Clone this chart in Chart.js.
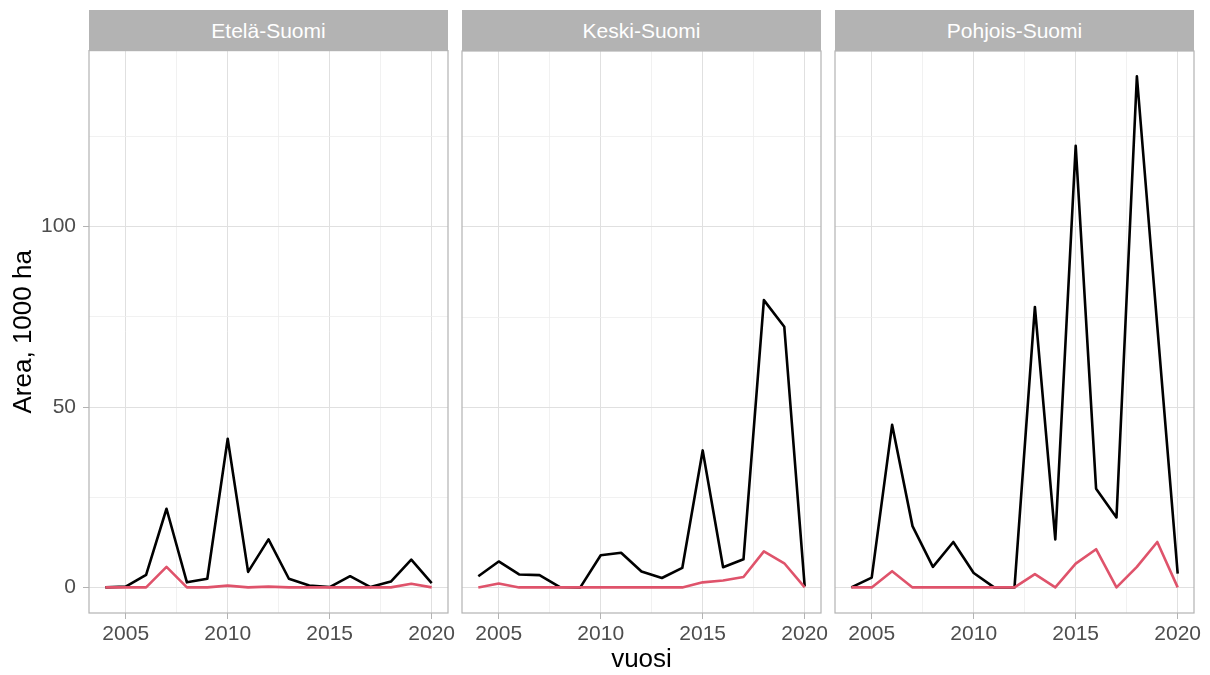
<!DOCTYPE html>
<html>
<head>
<meta charset="utf-8">
<script src="https://cdn.jsdelivr.net/npm/chart.js@4"></script>
<style>
  body { margin: 0; background: #fff; width: 1210px; height: 675px; position: relative; overflow: hidden;
         font-family: "Liberation Sans", Arial, sans-serif; }
  canvas { position: absolute; }
  .strip { position: absolute; top: 10px; height: 41px; width: 359px; background: #B3B3B3; color: #fff;
           font-size: 21px; line-height: 41px; text-align: center; }
</style>
</head>
<body>
<div class="strip" style="left:89px">Etelä-Suomi</div>
<div class="strip" style="left:462px">Keski-Suomi</div>
<div class="strip" style="left:835px">Pohjois-Suomi</div>
<canvas id="c0"></canvas>
<canvas id="c1"></canvas>
<canvas id="c2"></canvas>
<script>
const years = [2004, 2005, 2006, 2007, 2008, 2009, 2010, 2011, 2012, 2013, 2014, 2015, 2016, 2017, 2018, 2019, 2020];
const regions = ['Etelä-Suomi', 'Keski-Suomi', 'Pohjois-Suomi'];

// black series
const etelaTotal   = [0, 0.2, 3.5, 21.8, 1.4, 2.4, 41.2, 4.3, 13.3, 2.4, 0.5, 0.1, 3.1, 0.1, 1.6, 7.7, 1.2];
const keskiTotal   = [3.1, 7.2, 3.6, 3.4, 0.1, 0, 8.9, 9.6, 4.4, 2.6, 5.4, 38.0, 5.6, 7.8, 79.7, 72.3, 0.3];
const pohjoisTotal = [0, 2.7, 45.1, 17.0, 5.7, 12.6, 4.0, 0, 0, 77.8, 13.3, 122.5, 27.4, 19.4, 141.8, 72.5, 3.8];
// red series
const etelaRed   = [0, 0, 0, 5.7, 0, 0, 0.5, 0, 0.2, 0, 0, 0, 0, 0, 0, 1.0, 0];
const keskiRed   = [0, 1.1, 0, 0, 0, 0, 0, 0, 0, 0, 0, 1.4, 1.9, 2.9, 10.0, 6.7, 0];
const pohjoisRed = [0, 0, 4.5, 0, 0, 0, 0, 0, 0, 3.7, 0, 6.6, 10.6, 0, 5.7, 12.6, 0];

const xMajor = [2005, 2010, 2015, 2020];
const xMinor = [2007.5, 2012.5, 2017.5];
const yMajor = [0, 50, 100];
const yMinor = [25, 75, 125];

const totals = [etelaTotal, keskiTotal, pohjoisTotal];
const reds = [etelaRed, keskiRed, pohjoisRed];

const panelLeft = [89, 462, 835];
const panelWidth = 359;
const textColor = '#4D4D4D';
const font = 'Liberation Sans';

const borderPlugin = {
  id: 'panelBorder',
  afterDraw(chart) {
    const a = chart.chartArea, c = chart.ctx;
    c.save();
    c.strokeStyle = '#B3B3B3';
    c.lineWidth = 1.2;
    c.strokeRect(a.left, a.top, a.right - a.left, a.bottom - a.top);
    c.restore();
  }
};

function toPoints(vals) {
  return years.map((y, i) => ({ x: y, y: vals[i] }));
}

function makeChart(idx) {
  const first = idx === 0;
  const padL = first ? 0 : 12;
  const canvasLeft = panelLeft[idx] - (first ? 89 : 12);
  const canvasWidth = (first ? 89 : 12) + panelWidth + 14;
  const cv = document.getElementById('c' + idx);
  cv.style.left = canvasLeft + 'px';
  cv.style.top = '31px';
  cv.width = canvasWidth;
  cv.height = 644;
  cv.style.width = canvasWidth + 'px';
  cv.style.height = '644px';

  const allX = xMajor.concat(xMinor).sort((a, b) => a - b);
  const allY = yMajor.concat(yMinor).sort((a, b) => a - b);

  return new Chart(cv.getContext('2d'), {
    type: 'line',
    data: {
      datasets: [
        { data: toPoints(reds[idx]), borderColor: '#DF536B', borderWidth: 2.6, pointRadius: 0, tension: 0, borderJoinStyle: 'round' },
        { data: toPoints(totals[idx]), borderColor: '#000000', borderWidth: 2.6, pointRadius: 0, tension: 0, borderJoinStyle: 'round' }
      ]
    },
    options: {
      responsive: false,
      animation: false,
      events: [],
      layout: { padding: { left: padL, right: 14, top: first ? 6 : 20, bottom: 0 } },
      plugins: { legend: { display: false }, tooltip: { enabled: false } },
      scales: {
        x: {
          type: 'linear',
          min: 2003.2,
          max: 2020.8,
          afterBuildTicks: s => { s.ticks = allX.map(v => ({ value: v })); },
          afterFit: s => { s.height = 62; },
          border: { display: false },
          grid: {
            color: c => xMajor.includes(c.tick.value) ? '#E0E0E0' : '#EDEDED',
            lineWidth: c => xMajor.includes(c.tick.value) ? 1 : 0.8,
            tickColor: c => xMajor.includes(c.tick.value) ? '#B3B3B3' : 'rgba(0,0,0,0)',
            tickLength: 6
          },
          ticks: {
            autoSkip: false,
            maxRotation: 0,
            padding: 3,
            color: textColor,
            font: { family: font, size: 21 },
            callback: v => xMajor.includes(v) ? String(v) : ''
          },
          title: {
            display: idx === 1,
            text: 'vuosi',
            color: '#000',
            font: { family: font, size: 26 },
            padding: { top: 0, bottom: 0 }
          }
        },
        y: {
          type: 'linear',
          min: -7.1,
          max: 148.8,
          afterBuildTicks: s => { s.ticks = allY.map(v => ({ value: v })); },
          afterFit: s => { s.width = first ? 89 : 0; },
          border: { display: false },
          grid: {
            color: c => yMajor.includes(c.tick.value) ? '#E0E0E0' : '#EDEDED',
            lineWidth: c => yMajor.includes(c.tick.value) ? 1 : 0.8,
            tickColor: c => (first && yMajor.includes(c.tick.value)) ? '#B3B3B3' : 'rgba(0,0,0,0)',
            tickLength: 6,
            drawTicks: first
          },
          ticks: {
            display: first,
            padding: 7,
            color: textColor,
            font: { family: font, size: 21 },
            callback: v => yMajor.includes(v) ? String(v) : ''
          },
          title: {
            display: first,
            text: 'Area, 1000 ha',
            color: '#000',
            font: { family: font, size: 26 },
            padding: { top: 8, bottom: 0 }
          }
        }
      }
    },
    plugins: [borderPlugin]
  });
}

regions.forEach((r, i) => makeChart(i));
</script>
</body>
</html>
